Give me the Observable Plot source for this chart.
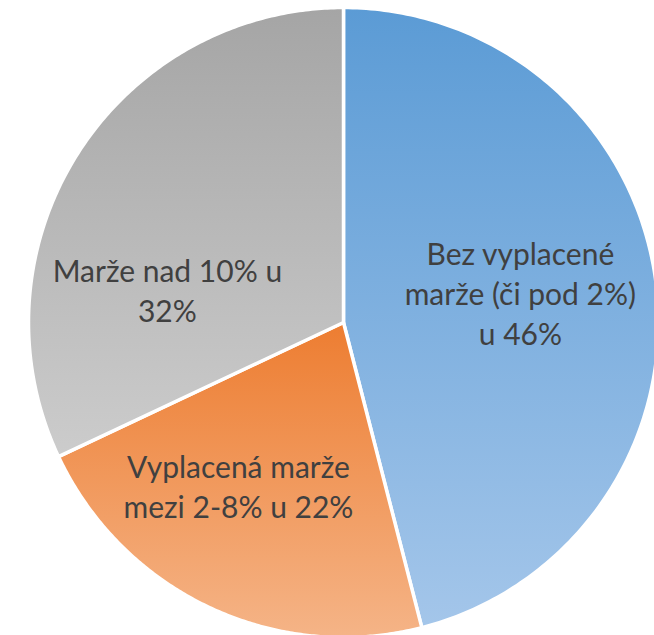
<!DOCTYPE html>
<html>
<head>
<meta charset="utf-8">
<script src="https://cdn.jsdelivr.net/npm/d3@7"></script>
<script src="https://cdn.jsdelivr.net/npm/@observablehq/plot@0.6"></script>
<style>
  html, body { margin: 0; padding: 0; background: #fff; }
  #chart { width: 654px; height: 635px; }
</style>
</head>
<body>
<div id="chart"></div>
<script>
// Data
const categories = ["Bez vyplacené marže", "Vyplacená marže 2-8%", "Marže nad 10%"];
const shares = [46, 22, 32];
const labelLines = [
  ["Bez vyplacené", "marže (či pod 2%)", "u 46%"],
  ["Vyplacená marže", "mezi 2-8% u 22%"],
  ["Marže nad 10% u", "32%"]
];

// Styling / placement
const gradTop = ["#5b9bd5", "#ed7d31", "#a5a5a5"];
const gradBottom = ["#a4c6ea", "#f5b487", "#cccccc"];
const labelPlacement = [
  {radius: 0.568, angleOffset: -1.5},
  {radius: 0.624, angleOffset: 7.1},
  {radius: 0.567, angleOffset: -22.8}
];

const W = 654, H = 635, R = 315, CX = 343, CY = 322;

const pie = d3.pie().sort(null).startAngle(0).endAngle(2 * Math.PI)(shares);

// slice outlines in radius units (clockwise from top)
const slices = pie.map((p, i) => {
  const pts = [{i, x: 0, y: 0}];
  const n = 200;
  for (let k = 0; k <= n; k++) {
    const a = p.startAngle + (p.endAngle - p.startAngle) * k / n;
    pts.push({i, x: Math.sin(a), y: Math.cos(a)});
  }
  return pts;
});

const labels = [];
pie.forEach((p, i) => {
  const a = (p.startAngle + p.endAngle) / 2 + labelPlacement[i].angleOffset * Math.PI / 180;
  const r = labelPlacement[i].radius;
  const lines = labelLines[i];
  lines.forEach((t, j) => {
    labels.push({
      text: t,
      x: Math.sin(a) * r,
      y: Math.cos(a) * r,
      dy: (j - (lines.length - 1) / 2) * 40
    });
  });
});

const marks = slices.map((pts, i) =>
  Plot.line(pts, {
    x: "x", y: "y",
    curve: "linear-closed",
    fill: `url(#grad${i})`,
    stroke: "white",
    strokeWidth: 3.5,
    strokeLinejoin: "round"
  })
);
const dys = [...new Set(labels.map(d => d.dy))];
dys.forEach(dy => {
  marks.push(Plot.text(labels.filter(d => d.dy === dy), {
    x: "x", y: "y", text: "text", dy,
    fill: "#404040",
    fontSize: 30,
    fontFamily: "Lato, 'Open Sans', sans-serif",
    textAnchor: "middle",
    lineAnchor: "middle"
  }));
});

const chart = Plot.plot({
  width: W,
  height: H,
  margin: 0,
  x: {domain: [-CX / R, (W - CX) / R], range: [0, W], axis: null},
  y: {domain: [-(H - CY) / R, CY / R], range: [H, 0], axis: null},
  style: {background: "white", overflow: "visible"},
  marks
});

const svg = d3.select(chart);
const defs = svg.insert("defs", ":first-child");
gradTop.forEach((c, i) => {
  const g = defs.append("linearGradient")
    .attr("id", `grad${i}`)
    .attr("x1", 0).attr("y1", 0).attr("x2", 0).attr("y2", 1);
  g.append("stop").attr("offset", "0%").attr("stop-color", c);
  g.append("stop").attr("offset", "100%").attr("stop-color", gradBottom[i]);
});

document.getElementById("chart").appendChild(chart);
</script>
</body>
</html>
